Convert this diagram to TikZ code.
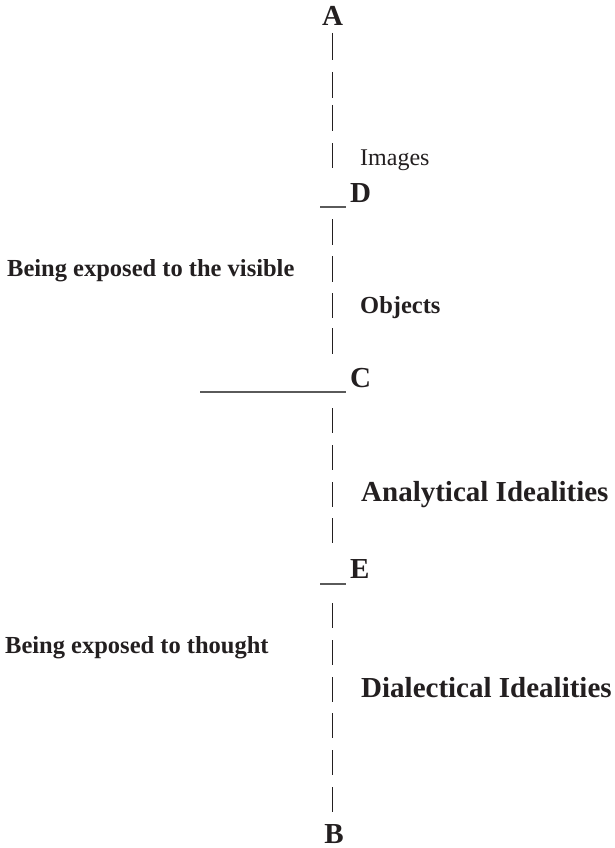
\documentclass[tikz,border=0pt]{standalone}
\usepackage{fontspec}
\setmainfont{Liberation Serif}
\definecolor{ink}{HTML}{231F20}
\definecolor{rulegray}{HTML}{5A5A5A}
\begin{document}
\begin{tikzpicture}[x=1pt,y=-1pt,
  txt/.style={inner sep=0pt, text=ink, anchor=base west, font=\fontsize{24.5}{28}\selectfont\bfseries},
  plain/.style={inner sep=0pt, text=ink, anchor=base west, font=\fontsize{24}{28}\selectfont},
  big/.style={inner sep=0pt, text=ink, anchor=base west, font=\fontsize{29}{34}\selectfont\bfseries},
  letter/.style={inner sep=0pt, text=ink, text depth=0pt, font=\fontsize{29}{34}\selectfont\bfseries},
  bar/.style={draw=ink, line width=1.1pt},
  hline/.style={draw=rulegray, line width=1.6pt}]
\useasboundingbox (0,0) rectangle (615,848);
% vertical dashed axis
\foreach \a/\b in {33/60,72/98,105/131,143/168,219/245,256/282,293/318,328/354,408/433,445/470,482/507,518/543,603/628,640/665,677/702,713/738,750/775,787/812}
  \draw[bar] (332.5,\a) -- (332.5,\b);
% horizontal marks
\coordinate (d0) at (320,207); \coordinate (d1) at (346,207);
\coordinate (c0) at (200,392); \coordinate (c1) at (346,392);
\coordinate (e0) at (320,584); \coordinate (e1) at (346,584);
\draw[hline] (d0) -- (d1);
\draw[hline] (c0) -- (c1);
\draw[hline] (e0) -- (e1);
% letters
\node[letter, anchor=base] (A) at (332.5,26) {A};
\node[letter, anchor=base west] (D) at (350,202) {D};
\node[letter, anchor=base west] (C) at (350,387) {C};
\node[letter, anchor=base west] (E) at (350,578) {E};
\node[letter, anchor=base] (B) at (334,843) {B};
% labels
\node[plain] (images) at (360,165) {Images};
\node[txt] (visible) at (7,276) {Being exposed to the visible};
\node[txt] (objects) at (360,313) {Objects};
\node[big] (analytical) at (361,501) {Analytical Idealities};
\node[txt] (thought) at (5,653) {Being exposed to thought};
\node[big] (dialectical) at (361,697) {Dialectical Idealities};
\end{tikzpicture}
\end{document}
